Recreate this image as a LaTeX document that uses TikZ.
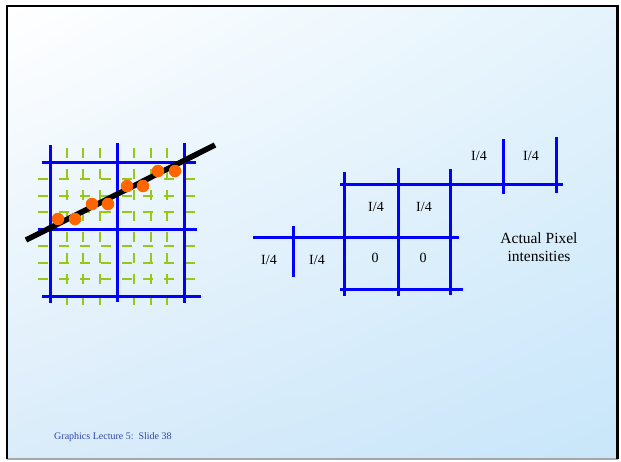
\documentclass[tikz,border=0pt]{standalone}
\usepackage{fontspec}
\usetikzlibrary{shadings}
\setmainfont{Liberation Serif}
\definecolor{gridblue}{RGB}{0,0,255}
\definecolor{subgreen}{RGB}{150,200,20}
\definecolor{dotorange}{RGB}{255,102,0}
\definecolor{footblue}{RGB}{50,70,170}
\definecolor{bgA}{RGB}{255,255,255}
\definecolor{bgB}{RGB}{228,243,252}
\definecolor{bgC}{RGB}{218,236,250}
\definecolor{bgD}{RGB}{200,230,250}
\tikzset{
  bluegrid/.style={draw=gridblue, line width=3pt},
  subline/.style={draw=subgreen, line width=2pt, dash pattern=on 10pt off 11pt},
  pixdot/.style={circle, fill=dotorange, inner sep=0pt, minimum size=12.5pt},
  val/.style={font=\fontsize{14}{16}\selectfont, inner sep=0pt},
  note/.style={font=\fontsize{15.5}{18}\selectfont, align=center, inner sep=0pt},
  foot/.style={font=\fontsize{10}{12}\selectfont, text=footblue, anchor=west, inner sep=0pt}
}
\begin{document}
\begin{tikzpicture}[x=1pt, y=-1pt]
\useasboundingbox (0,0) rectangle (621,461);
\fill[white] (0,0) rectangle (621,461);
\shade[upper left=bgA, upper right=bgB, lower left=bgC, lower right=bgD] (7,6) rectangle (618,459);
\draw[gray!70, line width=1.5pt] (7,459) -- (618,459);
\draw[black, line width=2pt] (7,459) -- (7,6) -- (617,6);
\draw[black, line width=3pt] (617,5) -- (617,459);

% green sub-pixel grid
\foreach \x in {66.5,83,100,134,150.5,167} {
  \draw[subline] (\x,148) -- (\x,306);
}
\foreach \y in {179,196,212,246,263,279} {
  \draw[subline] (38,\y) -- (200,\y);
}

% blue pixel grid
\draw[bluegrid] (50,145) -- (50,303);
\draw[bluegrid] (117,143) -- (117,302);
\draw[bluegrid] (184,143) -- (184,303);
\draw[bluegrid] (42,162) -- (196,162);
\draw[bluegrid] (38,229) -- (197,229);
\draw[bluegrid] (42,296) -- (201,296);

% the line
\coordinate (la) at (26,240);
\coordinate (lb) at (215,145);
\draw[black, line width=5.5pt] (la) -- (lb);

% samples
\foreach \n/\x/\y in {d1/58/219, d2/75/219, d3/92/204, d4/108/204, d5/127/186, d6/143/186, d7/158/171, d8/175/171} {
  \node[pixdot] (\n) at (\x,\y) {};
}

% right diagram
\draw[bluegrid] (344,172) -- (344,296);
\draw[bluegrid] (398,168) -- (398,296);
\draw[bluegrid] (450,169) -- (450,295);
\draw[bluegrid] (293,226) -- (293,277);
\draw[bluegrid] (503,139) -- (503,194);
\draw[bluegrid] (556,137) -- (556,193);
\draw[bluegrid] (340,184) -- (563,184);
\draw[bluegrid] (253,237) -- (459,237);
\draw[bluegrid] (340,289) -- (463,289);

\node[val] (v1) at (269,260) {I/4};
\node[val] (v2) at (317,260) {I/4};
\node[val] (v3) at (375,258) {0};
\node[val] (v4) at (423,258) {0};
\node[val] (v5) at (376,207) {I/4};
\node[val] (v6) at (424,207) {I/4};
\node[val] (v7) at (479,156) {I/4};
\node[val] (v8) at (531,156) {I/4};

\node[note] (lbl) at (539,247) {Actual Pixel\\intensities};

\node[foot] (ft) at (54,437) {Graphics Lecture 5:\ \ Slide 38};
\end{tikzpicture}
\end{document}
